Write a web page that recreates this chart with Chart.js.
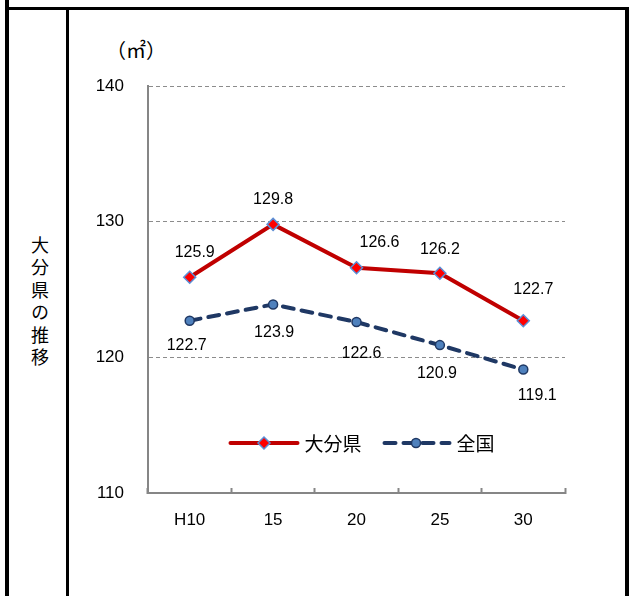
<!DOCTYPE html>
<html>
<head>
<meta charset="utf-8">
<script src="https://cdn.jsdelivr.net/npm/chart.js@4/dist/chart.umd.min.js"></script>
<style>
  html, body { margin: 0; padding: 0; background: #fff; }
  #wrap { position: relative; width: 629px; height: 596px; overflow: hidden; }
  .bar { position: absolute; background: #000; }
  #side {
    position: absolute; left: 27px; top: 236px;
    writing-mode: vertical-rl; letter-spacing: 4.5px;
    font: 18px "Noto Sans CJK JP", sans-serif; color: #000;
  }
  #unit {
    position: absolute; left: 106px; top: 35px;
    font: 20px "Noto Sans CJK JP", sans-serif; color: #000;
  }
  #myChart { position: absolute; left: 0; top: 0; }
</style>
</head>
<body>
<div id="wrap">
  <div class="bar" style="left:5px;top:0;width:4px;height:596px"></div>
  <div class="bar" style="left:5px;top:7px;width:624px;height:3px"></div>
  <div class="bar" style="left:66px;top:7px;width:3px;height:589px"></div>
  <div class="bar" style="left:625px;top:7px;width:4px;height:589px"></div>
  <div id="side">大分県の推移</div>
  <div id="unit">（㎡）</div>
  <canvas id="myChart" width="629" height="596"></canvas>
</div>
<script>
// data
let years = ["H10", "15", "20", "25", "30"];
let oitaValues = [125.9, 129.8, 126.6, 126.2, 122.7];
let japanValues = [122.7, 123.9, 122.6, 120.9, 119.1];
let seriesNames = ["大分県", "全国"];
let yTicks = [110, 120, 130, 140];

// where each value label sits relative to its point (dx, dy)
let oitaLabelShift = [[5, -25], [0, -25], [23, -25], [0, -24], [10, -31]];
let japanLabelShift = [[-3, 25], [1, 28], [5, 32], [-3, 28], [14, 26]];

const redLine = "#C00000";
const navyLine = "#1F3864";

// value labels drawn next to each point
const valueLabels = {
    id: "valueLabels",
    afterDatasetsDraw(chart) {
        let ctx = chart.ctx;
        let shifts = [oitaLabelShift, japanLabelShift];
        ctx.save();
        ctx.font = '16px "Liberation Sans", sans-serif';
        ctx.fillStyle = "#000";
        ctx.textAlign = "center";
        ctx.textBaseline = "middle";
        chart.data.datasets.forEach(function(ds, i){
            let meta = chart.getDatasetMeta(i);
            meta.data.forEach(function(pt, j){
                ctx.fillText(ds.data[j].toFixed(1), pt.x + shifts[i][j][0], pt.y + shifts[i][j][1]);
            });
        });
        ctx.restore();
    }
};

// legend sits inside the plot, near the bottom
const innerLegend = {
    id: "innerLegend",
    afterDraw(chart) {
        let ctx = chart.ctx;
        let area = chart.chartArea;
        let y = area.bottom - 50;
        let lineLen = 67, gapText = 7, gapItem = 21;
        ctx.save();
        ctx.font = '19px "Noto Sans CJK JP", sans-serif';
        let w0 = ctx.measureText(seriesNames[0]).width;
        let w1 = ctx.measureText(seriesNames[1]).width;
        let total = lineLen * 2 + gapText * 2 + gapItem + w0 + w1;
        let x = (area.left + area.right) / 2 - total / 2 + 6;

        // 大分県
        ctx.lineCap = "round";
        ctx.lineWidth = 4;
        ctx.strokeStyle = redLine;
        ctx.beginPath(); ctx.moveTo(x, y); ctx.lineTo(x + lineLen, y); ctx.stroke();
        let mx = x + lineLen / 2;
        ctx.beginPath();
        ctx.moveTo(mx, y - 6); ctx.lineTo(mx + 6, y); ctx.lineTo(mx, y + 6); ctx.lineTo(mx - 6, y); ctx.closePath();
        ctx.fillStyle = "#FF0000"; ctx.fill();
        ctx.lineWidth = 1.5; ctx.strokeStyle = "#5B8FD6"; ctx.stroke();
        ctx.fillStyle = "#000";
        ctx.textBaseline = "middle";
        ctx.fillText(seriesNames[0], x + lineLen + gapText, y + 1);

        // 全国
        x = x + lineLen + gapText + w0 + gapItem;
        ctx.lineWidth = 4;
        ctx.strokeStyle = navyLine;
        ctx.setLineDash([11, 8]);
        ctx.beginPath(); ctx.moveTo(x + 2, y); ctx.lineTo(x + lineLen, y); ctx.stroke();
        ctx.setLineDash([]);
        mx = x + lineLen / 2;
        ctx.beginPath(); ctx.arc(mx, y, 4.5, 0, Math.PI * 2);
        ctx.fillStyle = "#4F81BD"; ctx.fill();
        ctx.lineWidth = 1.5; ctx.strokeStyle = navyLine; ctx.stroke();
        ctx.fillStyle = "#000";
        ctx.fillText(seriesNames[1], x + lineLen + gapText, y + 1);
        ctx.restore();
    }
};

let ctx = document.getElementById("myChart").getContext("2d");
let myChart = new Chart(ctx, {
    type: "line",
    data: {
        labels: years,
        datasets: [{
            label: seriesNames[0],
            data: oitaValues,
            borderColor: redLine,
            borderWidth: 4,
            pointStyle: "rectRot",
            pointRadius: 6,
            pointBackgroundColor: "#FF0000",
            pointBorderColor: "#5B8FD6",
            pointBorderWidth: 1.5,
            tension: 0
        }, {
            label: seriesNames[1],
            data: japanValues,
            borderColor: navyLine,
            borderWidth: 4,
            borderDash: [11, 8],
            borderCapStyle: "round",
            pointStyle: "circle",
            pointRadius: 4.5,
            pointBackgroundColor: "#4F81BD",
            pointBorderColor: navyLine,
            pointBorderWidth: 1.5,
            tension: 0
        }]
    },
    options: {
        responsive: false,
        animation: false,
        layout: {
            padding: { left: 88, right: 64, top: 86, bottom: 53 }
        },
        plugins: {
            legend: { display: false },
            tooltip: { enabled: false }
        },
        scales: {
            x: {
                offset: true,
                grid: {
                    offset: true,
                    drawOnChartArea: false,
                    tickLength: -5,
                    tickColor: "#868686",
                    tickWidth: 2
                },
                border: { color: "#868686", width: 2 },
                ticks: {
                    color: "#000",
                    padding: 22,
                    font: { family: '"Liberation Sans", sans-serif', size: 17 }
                },
                afterFit: function(scale){ scale.height = 50; }
            },
            y: {
                min: yTicks[0],
                max: yTicks[yTicks.length - 1],
                afterBuildTicks: function(scale){
                    scale.ticks = yTicks.map(function(v){ return { value: v }; });
                },
                grid: {
                    color: "#8C8C8C",
                    lineWidth: 1,
                    drawTicks: false
                },
                border: { color: "#868686", width: 2, dash: [4, 3] },
                ticks: {
                    color: "#000",
                    padding: 24,
                    font: { family: '"Liberation Sans", sans-serif', size: 17 }
                },
                afterFit: function(scale){ scale.width = 60; }
            }
        }
    },
    plugins: [valueLabels, innerLegend]
});
</script>
</body>
</html>
